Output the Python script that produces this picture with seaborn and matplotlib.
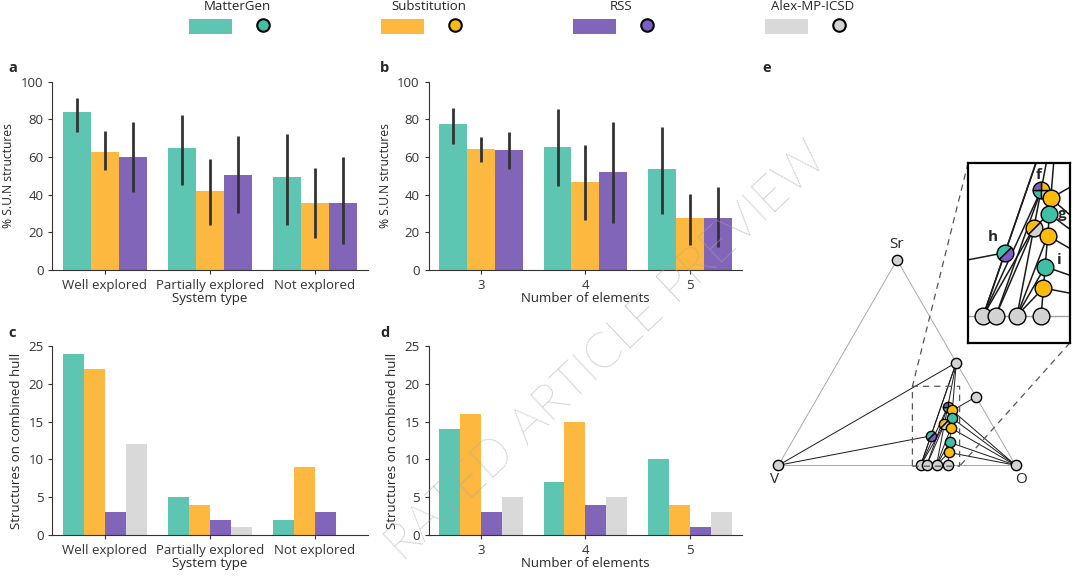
import numpy as np
import pandas as pd
import seaborn as sns
import matplotlib.pyplot as plt
from matplotlib.path import Path
from matplotlib.patches import Patch
from matplotlib.lines import Line2D

# ---- data -------------------------------------------------------------
methods = ["MatterGen", "Substitution", "RSS", "Alex-MP-ICSD"]
bar_colors = ["#5dc5b1", "#fdb83f", "#8065b8", "#d9d9d9"]
dot_colors = ["#3fbfa6", "#fbbb0c", "#7b5dc6", "#d3d3d3"]

system_types = ["Well explored", "Partially explored", "Not explored"]
element_counts = ["3", "4", "5"]

# a: % S.U.N structures by system type (bar value, error bar low / high)
sun_sys = {"MatterGen": [83.7, 65, 49.2], "Substitution": [62.8, 42.1, 35.8], "RSS": [59.8, 50.4, 35.4]}
sun_sys_lo = {"MatterGen": [73.5, 45.1, 24.1], "Substitution": [53.1, 24.1, 17], "RSS": [41.2, 30.1, 14]}
sun_sys_hi = {"MatterGen": [91.2, 82.3, 72], "Substitution": [74, 59.1, 54], "RSS": [78.4, 71.2, 60]}

# b: % S.U.N structures by number of elements
sun_el = {"MatterGen": [77.4, 65.5, 53.6], "Substitution": [64, 46.6, 27.8], "RSS": [63.7, 52.1, 27.8]}
sun_el_lo = {"MatterGen": [66.7, 44.8, 29.6], "Substitution": [57.3, 26.7, 13.3], "RSS": [53.7, 24.9, 12.4]}
sun_el_hi = {"MatterGen": [86, 85.4, 76.1], "Substitution": [70.6, 66.4, 40.4], "RSS": [73, 78.3, 44.2]}

# c: structures on combined hull by system type
hull_sys = {"MatterGen": [24, 5, 2], "Substitution": [22, 4, 9], "RSS": [3, 2, 3], "Alex-MP-ICSD": [12, 1, 0]}
# d: structures on combined hull by number of elements
hull_el = {"MatterGen": [14, 7, 10], "Substitution": [16, 15, 4], "RSS": [3, 4, 1], "Alex-MP-ICSD": [5, 5, 3]}

# e: Sr-V-O phase diagram (atom counts Sr, V, O) and which method found each phase
phase_names = ["Sr", "V", "O", "SrO", "SrO2", "V2O3", "V3O5", "VO2", "V2O5",
               "SrV2O4", "Sr2VO4", "Sr4V2O9", "Sr3V2O8", "SrVO3", "Sr2V2O7", "SrV2O6", "SrV4O11"]
phase_sr = [1, 0, 0, 1, 1, 0, 0, 0, 0, 1, 2, 4, 3, 1, 2, 1, 1]
phase_v = [0, 1, 0, 0, 0, 2, 3, 1, 2, 2, 1, 2, 2, 1, 2, 2, 4]
phase_o = [0, 0, 1, 1, 2, 3, 5, 2, 5, 4, 4, 9, 8, 3, 7, 6, 11]
phase_sources = [["Alex-MP-ICSD"]] * 9 + [
    ["MatterGen", "RSS"],
    ["MatterGen", "Alex-MP-ICSD", "Substitution", "RSS"],
    ["Substitution"],
    ["MatterGen"],
    ["Substitution", "Alex-MP-ICSD"],
    ["Substitution"],
    ["MatterGen"],
    ["Substitution"],
]
outer_edges = [("V", "Sr"), ("Sr", "O"), ("V", "O")]
tie_lines = [("V", "SrO"), ("V", "SrV2O4"), ("SrO", "SrV2O4"), ("SrV2O4", "V2O3"), ("SrO", "V2O3"),
             ("SrO", "Sr2VO4"), ("SrO", "Sr4V2O9"), ("SrO2", "Sr4V2O9"), ("Sr2VO4", "V2O3"),
             ("Sr2VO4", "V3O5"), ("Sr2VO4", "SrVO3"), ("Sr2VO4", "Sr4V2O9"), ("SrVO3", "V2O3"),
             ("SrVO3", "V3O5"), ("SrVO3", "VO2"), ("SrVO3", "Sr3V2O8"), ("SrVO3", "Sr2V2O7"),
             ("Sr4V2O9", "Sr3V2O8"), ("Sr4V2O9", "O"), ("Sr3V2O8", "O"), ("Sr2V2O7", "O"),
             ("SrV2O6", "O"), ("SrV4O11", "O"), ("Sr3V2O8", "Sr2V2O7"), ("Sr2V2O7", "VO2"),
             ("Sr2V2O7", "SrV2O6"), ("SrV2O6", "VO2"), ("SrV2O6", "SrV4O11"), ("SrV4O11", "VO2"),
             ("SrV4O11", "V2O5")]
point_labels = {"Sr2VO4": "f", "Sr3V2O8": "g", "SrV2O4": "h", "SrV2O6": "i"}
label_offsets = {"f": (-2, 11), "g": (9.5, 0), "h": (-9, 11), "i": (10, 5)}

# ---- style ------------------------------------------------------------
sns.set_style("ticks")
plt.rcParams["font.family"] = ["Open Sans", "DejaVu Sans"]
plt.rcParams["font.size"] = 9.5
plt.rcParams["axes.edgecolor"] = "#333333"
plt.rcParams["xtick.color"] = "#333333"
plt.rcParams["ytick.color"] = "#333333"
plt.rcParams["xtick.major.size"] = 3
plt.rcParams["ytick.major.size"] = 3

fig = plt.figure(figsize=(10.8, 5.85), dpi=100)
ax_a = fig.add_axes([0.0486, 0.5385, 0.2917, 0.322])
ax_b = fig.add_axes([0.397, 0.5385, 0.290, 0.322])
ax_c = fig.add_axes([0.0486, 0.0855, 0.2917, 0.323])
ax_d = fig.add_axes([0.397, 0.0855, 0.290, 0.323])
ax_e = fig.add_axes([0.7037, 0.1453, 0.2917, 0.752])


def bar_panel(ax, cats, values, lo=None, hi=None):
    hue_order = list(values.keys())
    rows = [(c, m, v) for m in hue_order for c, v in zip(cats, values[m])]
    df = pd.DataFrame(rows, columns=["cat", "method", "value"])
    pal = [bar_colors[methods.index(m)] for m in hue_order]
    sns.barplot(data=df, x="cat", y="value", hue="method", order=cats, hue_order=hue_order,
                palette=pal, saturation=1, errorbar=None, width=0.8, linewidth=0,
                legend=False, ax=ax)
    if lo is not None:
        for m, cont in zip(hue_order, ax.containers):
            xs = [b.get_x() + b.get_width() / 2 for b in cont]
            ax.vlines(xs, lo[m], hi[m], color="#333333", lw=2, zorder=3)
    ax.set_xlim(-0.5, 2.5)
    ax.tick_params(labelsize=9.5, width=0.8)
    sns.despine(ax=ax)


bar_panel(ax_a, system_types, sun_sys, sun_sys_lo, sun_sys_hi)
bar_panel(ax_b, element_counts, sun_el, sun_el_lo, sun_el_hi)
bar_panel(ax_c, system_types, hull_sys)
bar_panel(ax_d, element_counts, hull_el)

for ax in (ax_a, ax_b):
    ax.set_ylim(0, 100)
    ax.set_yticks(range(0, 101, 20))
    ax.set_ylabel("% S.U.N structures", fontsize=8.7)
for ax in (ax_c, ax_d):
    ax.set_ylim(0, 25)
    ax.set_yticks(range(0, 26, 5))
    ax.set_ylabel("Structures on combined hull", fontsize=9.5)
for ax in (ax_a, ax_c):
    ax.set_xlabel("System type", fontsize=9.5, labelpad=0)
for ax in (ax_b, ax_d):
    ax.set_xlabel("Number of elements", fontsize=9.5, labelpad=0)

# ---- e: ternary ---------------------------------------------------------
tot = np.array(phase_sr) + np.array(phase_v) + np.array(phase_o)
f_sr = np.array(phase_sr) / tot
f_o = np.array(phase_o) / tot
tx = dict(zip(phase_names, f_o + f_sr / 2))
ty = dict(zip(phase_names, f_sr * np.sqrt(3) / 2))


def draw_diagram(ax, size, lw):
    for a, b in outer_edges:
        ax.plot([tx[a], tx[b]], [ty[a], ty[b]], color="#a0a0a0", lw=lw * 0.9, zorder=1)
    for a, b in tie_lines:
        ax.plot([tx[a], tx[b]], [ty[a], ty[b]], color="#1a1a1a", lw=lw, zorder=2)
    for name, src in zip(phase_names, phase_sources):
        n = len(src)
        if n == 1:
            ax.scatter(tx[name], ty[name], s=size, marker="o",
                       color=dot_colors[methods.index(src[0])], edgecolor="k", linewidth=1, zorder=3)
            continue
        start = 45 if n == 2 else 180
        step = 360 / n
        for k, m in enumerate(src):
            wedge = Path.wedge(start + k * step, start + (k + 1) * step)
            ax.scatter(tx[name], ty[name], s=size, marker=wedge,
                       color=dot_colors[methods.index(m)], edgecolor="k", linewidth=1, zorder=3)


draw_diagram(ax_e, 55, 0.7)
ax_e.set_xlim(-0.077, 1.250)
ax_e.set_ylim(-0.1466, 1.709)
ax_e.set_aspect("equal")
ax_e.axis("off")
ax_e.annotate("Sr", (tx["Sr"], ty["Sr"]), xytext=(0, 6), textcoords="offset points",
              ha="center", va="bottom", fontsize=11)
ax_e.annotate("V", (tx["V"], ty["V"]), xytext=(-3, -5), textcoords="offset points",
              ha="center", va="top", fontsize=11)
ax_e.annotate("O", (tx["O"], ty["O"]), xytext=(4, -5), textcoords="offset points",
              ha="center", va="top", fontsize=11)

axins = ax_e.inset_axes([0.80, 0.516, 0.429, 0.760], transform=ax_e.transData)
draw_diagram(axins, 145, 1.1)
axins.set_xlim(0.570, 0.771)
axins.set_ylim(-0.054, 0.301)
axins.set_xticks([])
axins.set_yticks([])
for sp in axins.spines.values():
    sp.set_linewidth(1.6)
    sp.set_edgecolor("k")
for name, lab in point_labels.items():
    axins.annotate(lab, (tx[name], ty[name]), xytext=label_offsets[lab], textcoords="offset points",
                   ha="center", va="center", fontsize=11, fontweight="bold", zorder=5)

ax_e.indicate_inset([0.565, -0.004, 0.199, 0.337], inset_ax=axins, edgecolor="#555555",
                    linestyle=(0, (5, 4)), linewidth=0.9, alpha=1)

# ---- panel letters -----------------------------------------------------
for lab, x, y in [("a", 0.0074, 0.884), ("b", 0.352, 0.884), ("c", 0.0074, 0.43),
                  ("d", 0.352, 0.43), ("e", 0.7055, 0.884)]:
    fig.text(x, y, lab, fontsize=10.5, fontweight="bold", ha="left", va="center")

# ---- legend (one per method: name above bar swatch and marker) ----------
for i, m in enumerate(methods):
    handles = [Patch(facecolor=bar_colors[i], edgecolor="none"),
               Line2D([], [], marker="o", linestyle="", markersize=9,
                      markerfacecolor=dot_colors[i], markeredgecolor="k", markeredgewidth=1.5)]
    fig.legend(handles, ["", ""], title=m, ncol=2, frameon=False, loc="upper center",
               bbox_to_anchor=(0.2194 + i * 0.1778, 1.012), handlelength=3.3,
               handleheight=1.3, handletextpad=0, columnspacing=0.7, borderpad=0,
               title_fontsize=9.5, fontsize=9.5)

# watermark (only the part that falls inside the frame)
fig.text(0.562, 0.397, "RATED ARTICLE PREVIEW", rotation=43.3, rotation_mode="anchor",
         ha="center", va="center", fontsize=36, color="#a8a8a8", alpha=0.85,
         family=["Lato", "DejaVu Sans"], fontweight="light", zorder=10)

fig.savefig("out.png", dpi=100)
